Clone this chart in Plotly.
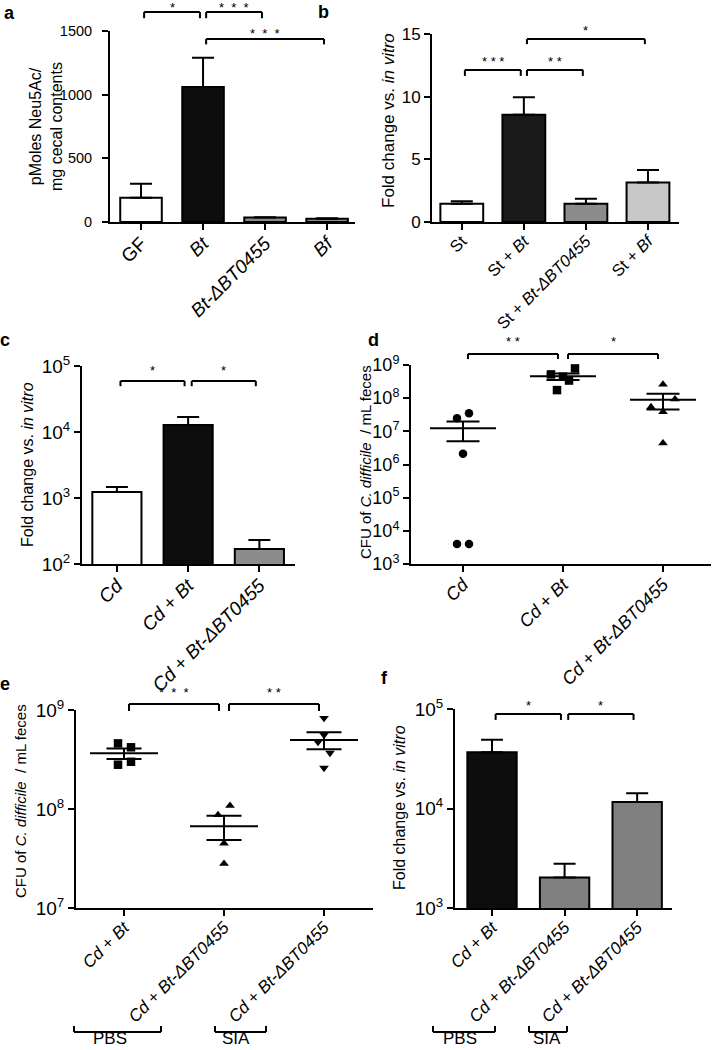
import numpy as np
import plotly.graph_objects as go

W, H = 712, 1050
FONT = "Liberation Sans, Arial, sans-serif"

# ---------------- data ----------------
# panel a
a_labels = ["GF", "<i>Bt</i>", "<i>Bt-ΔBT0455</i>", "<i>Bf</i>"]
a_mean = [190, 1060, 35, 25]
a_sem = [110, 230, 3, 5]
a_colors = ["#ffffff", "#0d0d0d", "#8c8c8c", "#8c8c8c"]
a_yticks = [0, 500, 1000, 1500]

# panel b
b_labels = ["St", "St + <i>Bt</i>", "St + <i>Bt-ΔBT0455</i>", "St + <i>Bf</i>"]
b_mean = [1.45, 8.55, 1.45, 3.15]
b_sem = [0.2, 1.4, 0.4, 1.0]
b_colors = ["#ffffff", "#1a1a1a", "#8c8c8c", "#c8c8c8"]
b_yticks = [0, 5, 10, 15]

# panel c
c_labels = ["<i>Cd</i>", "<i>Cd</i> + <i>Bt</i>", "<i>Cd</i> + <i>Bt-ΔBT0455</i>"]
c_mean = [1230, 12800, 169]
c_sem = [240, 4100, 62]
c_colors = ["#ffffff", "#0d0d0d", "#8c8c8c"]
c_yticks = [1e2, 1e3, 1e4, 1e5]

# panel d (individual mice)
d_labels = ["<i>Cd</i>", "<i>Cd</i> + <i>Bt</i>", "<i>Cd</i> + <i>Bt-ΔBT0455</i>"]
d_cd = [2.5e7, 3.5e7, 2.1e6, 4e3, 4e3]
d_cdbt = [5.2e8, 1.75e8, 4.45e8, 3.4e8, 7.9e8]
d_cdmut = [2.6e8, 5.4e7, 9.3e7, 3.85e7, 4.4e6]
d_jitter = [[-0.06, 0.06, 0, -0.06, 0.06],
            [-0.12, -0.06, 0, 0.06, 0.12],
            [0, -0.12, 0.12, 0, 0]]
d_symbols = ["circle", "square", "triangle-up"]
d_yticks = [1e3, 1e4, 1e5, 1e6, 1e7, 1e8, 1e9]

# panel e
e_labels = ["<i>Cd</i> + <i>Bt</i>", "<i>Cd</i> + <i>Bt-ΔBT0455</i>", "<i>Cd</i> + <i>Bt-ΔBT0455</i>"]
e_cdbt = [4.6e8, 4.2e8, 2.8e8, 3.0e8]
e_mut_pbs = [1.08e8, 8.7e7, 4.5e7, 2.8e7]
e_mut_sia = [8.3e8, 5.6e8, 4.75e8, 3.68e8, 2.6e8]
e_jitter = [[-0.06, 0.07, -0.06, 0.07],
            [0.06, -0.06, 0, 0],
            [0, 0, -0.06, 0.06, 0]]
e_symbols = ["square", "triangle-up", "triangle-down"]
e_yticks = [1e7, 1e8, 1e9]

# panel f
f_labels = ["<i>Cd</i> + <i>Bt</i>", "<i>Cd</i> + <i>Bt-ΔBT0455</i>", "<i>Cd</i> + <i>Bt-ΔBT0455</i>"]
f_mean = [36700, 2030, 11600]
f_sem = [12500, 760, 2600]
f_colors = ["#0d0d0d", "#808080", "#808080"]
f_yticks = [1e3, 1e4, 1e5]

# significance brackets: (panel, from, to, level, drop, stars, star shift px)
NB = "\u00a0"
W3 = "*" + NB * 2 + "*" + NB * 2 + "*"
brackets = [
    ("a", 0, 1, 1.099, 0.032, "*", -5),
    ("a", 1, 2, 1.099, 0.032, W3, -5),
    ("a", 1, 3, 0.958, 0.028, W3, -4),
    ("b", 0, 1, 0.809, 0.032, "*" + NB + "*" + NB + "*", -1),
    ("b", 1, 2, 0.809, 0.032, "*" + NB + "*", -1),
    ("b", 1, 3, 0.973, 0.027, "*", -1),
    ("c", 0, 1, 0.924, 0.026, "*", 1),
    ("c", 1, 2, 0.924, 0.026, "*", 1),
    ("d", 0, 1, 1.055, 0.025, "*" + NB + "*", 3),
    ("d", 1, 2, 1.055, 0.025, "*", 3),
    ("e", 0, 1, 1.030, 0.035, W3, 2),
    ("e", 1, 2, 1.030, 0.035, "*" + NB + "*", 2),
    ("f", 0, 1, 0.975, 0.030, "*", -1),
    ("f", 1, 2, 0.975, 0.030, "*", -1),
]

# ---------------- layout helpers ----------------
def dx(l, r):
    return [l / W, r / W]

def dy(top, bottom):
    return [1 - bottom / H, 1 - top / H]

# panel: (axis suffix, x-domain px, y-domain px, x range)
panels = {
    "a": ("", (110, 355), (31, 222), [-0.5, 3.45]),
    "b": ("2", (432, 679), (34, 222), [-0.48, 3.5]),
    "c": ("3", (82, 295), (366, 564), [-0.49, 2.5]),
    "d": ("4", (411, 711), (365, 564), [-0.52, 2.48]),
    "e": ("5", (76, 373), (710, 908), [-0.48, 2.49]),
    "f": ("6", (455, 672), (709, 908), [-0.51, 2.48]),
}

def sup(v):
    return "10<sup>%d</sup>" % int(round(np.log10(v)))

fig = go.Figure()

def add_bars(p, means, sems, colors, width):
    s = panels[p][0]
    n = len(means)
    fig.add_trace(go.Bar(
        x=list(range(n)), y=means, width=width,
        marker=dict(color=colors, line=dict(color="black", width=2)),
        error_y=dict(type="data", symmetric=False, array=sems, arrayminus=[0] * n,
                     color="black", thickness=2, width=11),
        xaxis="x" + s, yaxis="y" + s, showlegend=False, hoverinfo="skip"))

add_bars("a", a_mean, a_sem, a_colors, 0.67)
add_bars("b", b_mean, b_sem, b_colors, 0.69)
add_bars("c", c_mean, c_sem, c_colors, 0.69)
add_bars("f", f_mean, f_sem, f_colors, 0.68)

def add_dots(p, groups, jitter, symbols, half_mean, half_sem):
    s = panels[p][0]
    lx, ly = [], []
    for i, (vals, jit, sym) in enumerate(zip(groups, jitter, symbols)):
        v = np.array(vals, dtype=float)
        fig.add_trace(go.Scatter(
            x=[i + j for j in jit], y=vals, mode="markers",
            marker=dict(symbol=sym, color="black", size=8.5),
            xaxis="x" + s, yaxis="y" + s, showlegend=False, hoverinfo="skip", cliponaxis=False))
        m = v.mean()
        se = v.std(ddof=1) / np.sqrt(len(v))
        lx += [i - half_mean, i + half_mean, None,
               i - half_sem, i + half_sem, None,
               i - half_sem, i + half_sem, None,
               i, i, None]
        ly += [m, m, None, m + se, m + se, None, m - se, m - se, None, m - se, m + se, None]
    fig.add_trace(go.Scatter(x=lx, y=ly, mode="lines", line=dict(color="black", width=2),
                             xaxis="x" + s, yaxis="y" + s, showlegend=False, hoverinfo="skip"))

add_dots("d", [d_cd, d_cdbt, d_cdmut], d_jitter, d_symbols, 0.33, 0.165)
add_dots("e", [e_cdbt, e_mut_pbs, e_mut_sia], e_jitter, e_symbols, 0.34, 0.175)

layout = dict(width=W, height=H, margin=dict(l=0, r=0, t=0, b=0, autoexpand=False),
              paper_bgcolor="white", plot_bgcolor="white",
              font=dict(family=FONT, color="black"), showlegend=False)

xlabels = {"a": a_labels, "b": b_labels, "c": c_labels, "d": d_labels, "e": e_labels, "f": f_labels}
yconf = {
    "a": dict(type="linear", range=[0, 1500], tickvals=a_yticks, ticktext=[str(t) for t in a_yticks]),
    "b": dict(type="linear", range=[0, 15], tickvals=b_yticks, ticktext=[str(t) for t in b_yticks]),
    "c": dict(type="log", range=[2, 5], tickvals=c_yticks, ticktext=[sup(t) for t in c_yticks]),
    "d": dict(type="log", range=[3, 9], tickvals=d_yticks, ticktext=[sup(t) for t in d_yticks]),
    "e": dict(type="log", range=[7, 9], tickvals=e_yticks, ticktext=[sup(t) for t in e_yticks]),
    "f": dict(type="log", range=[3, 5], tickvals=f_yticks, ticktext=[sup(t) for t in f_yticks]),
}
ytick_size = {"a": 14.5, "b": 17, "c": 19, "d": 18, "e": 19, "f": 19}
ytick_off = {"a": 7, "b": 0, "c": 0, "d": 0, "e": 0, "f": 0}
xtick_size = {"a": 19, "b": 16.5, "c": 19, "d": 18, "e": 17, "f": 17}

for p, (s, xd, ydom, xr) in panels.items():
    common = dict(showline=True, linecolor="black", linewidth=2, ticks="outside",
                  ticklen=6, tickwidth=2, tickcolor="black", showgrid=False, zeroline=False,
                  automargin=False, fixedrange=True)
    layout["xaxis" + s] = dict(domain=dx(*xd), anchor="y" + s, range=xr,
                               tickvals=list(range(len(xlabels[p]))), ticktext=xlabels[p],
                               tickangle=-45, ticklabelstandoff=-5,
                               tickfont=dict(size=xtick_size[p]), **common)
    layout["yaxis" + s] = dict(domain=dy(*ydom), anchor="x" + s, ticklabelstandoff=ytick_off[p],
                               tickfont=dict(size=ytick_size[p]), **common, **yconf[p])

shapes, annotations = [], []
for p, i, j, lev, drop, stars, sh in brackets:
    s = panels[p][0]
    x0, x1 = i + 0.05, j - 0.05
    for (xa, ya, xb, yb) in [(x0, lev - drop, x0, lev), (x0, lev, x1, lev), (x1, lev, x1, lev - drop)]:
        shapes.append(dict(type="line", xref="x" + s, yref="y" + s + " domain",
                           x0=xa, y0=ya, x1=xb, y1=yb, line=dict(color="black", width=2)))
    annotations.append(dict(text=stars, x=(x0 + x1) / 2, y=lev, xref="x" + s, yref="y" + s + " domain",
                            showarrow=False, xanchor="center", yanchor="bottom", yshift=sh,
                            font=dict(size=13, family=FONT)))

# treatment group brackets under panels e and f (pixel spans, label centre)
groups_px = [((74, 161), 110, "PBS"), ((215, 266), 236, "SIA"),
             ((433, 495), 460, "PBS"), ((529, 567), 547, "SIA")]
for (l, r), c, txt in groups_px:
    yb, yt = 1 - 1032 / H, 1 - 1026 / H
    for (xa, ya, xb, yb2) in [(l, yt, l, yb), (l, yb, r, yb), (r, yb, r, yt)]:
        shapes.append(dict(type="line", xref="paper", yref="paper", x0=xa / W, x1=xb / W,
                           y0=ya, y1=yb2, line=dict(color="black", width=2)))
    annotations.append(dict(text=txt, x=c / W, y=0, xref="paper", yref="paper",
                            showarrow=False, xanchor="center", yanchor="bottom",
                            font=dict(size=17, family=FONT)))

# axis titles
titles = [
    ("pMoles Neu5Ac/<br>mg cecal contents", 46, 127, 16),
    ("Fold change vs. <i>in vitro</i>", 388, 121, 17),
    ("Fold change vs. <i>in vitro</i>", 27, 465, 16),
    ("CFU of <i>C. difficile</i>  / mL feces", 366, 462, 15),
    ("CFU of <i>C. difficile</i>  / mL feces", 20, 801, 15),
    ("Fold change vs. <i>in vitro</i>", 399, 808, 16),
]
for t, x, y, fs in titles:
    annotations.append(dict(text=t, x=x / W, y=1 - y / H, xref="paper", yref="paper",
                            showarrow=False, textangle=-90, xanchor="center", yanchor="middle",
                            font=dict(size=fs, family=FONT)))

# panel letters
for t, x, y in [("a", 9, 13), ("b", 323, 12), ("c", 5, 340), ("d", 373, 340), ("e", 5, 684), ("f", 384, 678)]:
    annotations.append(dict(text="<b>%s</b>" % t, x=x / W, y=1 - y / H, xref="paper", yref="paper",
                            showarrow=False, xanchor="center", yanchor="middle",
                            font=dict(size=18, family=FONT)))

layout["shapes"] = shapes
layout["annotations"] = annotations
fig.update_layout(**layout)
fig.write_html("out.html", config={"displayModeBar": False},
               post_script="document.body.style.margin='0px';")
